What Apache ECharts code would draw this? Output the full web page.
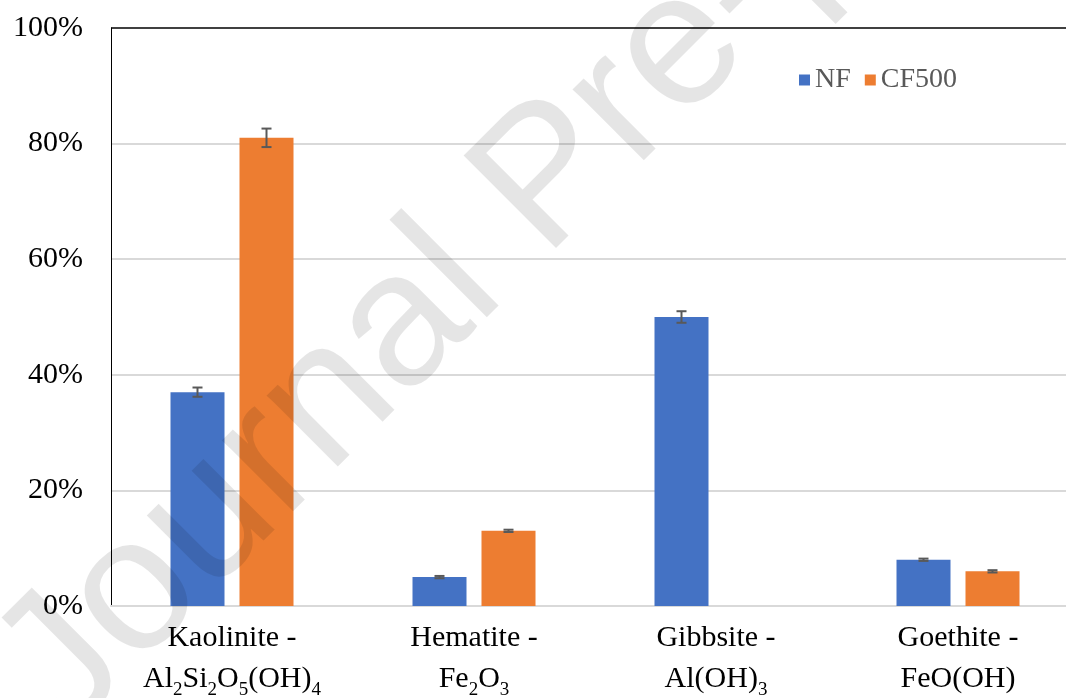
<!DOCTYPE html>
<html>
<head>
<meta charset="utf-8">
<script src="https://cdn.jsdelivr.net/npm/echarts@6/dist/echarts.min.js"></script>
<style>
  html, body { margin: 0; padding: 0; background: #fff; }
  #chart { width: 1066px; height: 698px; }
</style>
</head>
<body>
<div id="chart"></div>
<script>
// 数据
const categories = [
  'Kaolinite -\nAl{s|2}Si{s|2}O{s|5}(OH){s|4}',
  'Hematite -\nFe{s|2}O{s|3}',
  'Gibbsite -\nAl(OH){s|3}',
  'Goethite -\nFeO(OH)'
]
const seriesNames = ['NF', 'CF500']
const nfValues = [37, 5, 50, 8]
const cf500Values = [81, 13, 0, 6]
const nfErrors = [0.8, 0.2, 1.0, 0.2]
const cf500Errors = [1.6, 0.2, null, 0.2]
const yTicks = [0, 20, 40, 60, 80, 100]

const serif = '"Liberation Serif", "Times New Roman", serif'
const barW = 54
const barGapPx = 15

// 误差线的数据 [类别序号, 下限, 上限, 是否显示]
function errData (vals, errs) {
  return vals.map((v, i) => errs[i] == null ? [i, v, v, 0] : [i, v - errs[i], v + errs[i], 1])
}

function errRender (offset) {
  return function (params, api) {
    if (!api.value(3)) return null
    const lo = api.coord([api.value(0), api.value(1)])
    const hi = api.coord([api.value(0), api.value(2)])
    const x = lo[0] + offset
    const cap = 5
    const style = { stroke: '#595959', lineWidth: 2 }
    return {
      type: 'group',
      children: [
        { type: 'line', shape: { x1: x, y1: lo[1], x2: x, y2: hi[1] }, style: style },
        { type: 'line', shape: { x1: x - cap, y1: lo[1], x2: x + cap, y2: lo[1] }, style: style },
        { type: 'line', shape: { x1: x - cap, y1: hi[1], x2: x + cap, y2: hi[1] }, style: style }
      ]
    }
  }
}

const chart = echarts.init(document.getElementById('chart'))
const half = (barW + barGapPx) / 2

const option = {
  backgroundColor: '#fff',
  animation: false,
  grid: { left: 111, width: 968, top: 28, bottom: 92, outerBoundsMode: 'none', containLabel: false },
  legend: {
    data: seriesNames,
    left: 794,
    top: 61,
    icon: 'rect',
    itemWidth: 11,
    itemHeight: 11,
    itemGap: 14,
    textStyle: { fontFamily: serif, fontSize: 28, color: '#595959' }
  },
  xAxis: {
    type: 'category',
    data: categories,
    axisLine: { show: true, lineStyle: { color: '#d9d9d9', width: 2 } },
    axisTick: { show: false },
    axisLabel: {
      margin: 12,
      interval: 0,
      color: '#000',
      fontFamily: serif,
      fontSize: 30,
      lineHeight: 41,
      rich: {
        s: { fontFamily: serif, fontSize: 19, lineHeight: 33, verticalAlign: 'bottom', color: '#000' }
      }
    }
  },
  yAxis: {
    type: 'value',
    min: 0,
    max: 100,
    interval: 20,
    axisLine: { show: true, lineStyle: { color: '#000', width: 1 } },
    axisTick: { show: false },
    axisLabel: {
      margin: 28,
      color: '#000',
      fontFamily: serif,
      fontSize: 30,
      formatter: v => yTicks.indexOf(v) >= 0 ? v + '%' : ''
    },
    splitLine: {
      lineStyle: {
        color: ['#d9d9d9', '#d9d9d9', '#d9d9d9', '#d9d9d9', '#d9d9d9', '#404040'],
        width: 2
      }
    }
  },
  series: [
    {
      name: 'NF',
      type: 'bar',
      data: nfValues,
      barWidth: barW,
      barGap: (barGapPx / barW * 100) + '%',
      itemStyle: { color: '#4472c4' }
    },
    {
      name: 'CF500',
      type: 'bar',
      data: cf500Values,
      barWidth: barW,
      itemStyle: { color: '#ed7d31' }
    },
    {
      type: 'custom',
      renderItem: errRender(-half),
      data: errData(nfValues, nfErrors),
      encode: { x: 0, y: [1, 2] },
      z: 5
    },
    {
      type: 'custom',
      renderItem: errRender(half),
      data: errData(cf500Values, cf500Errors),
      encode: { x: 0, y: [1, 2] },
      z: 5
    }
  ],
  // 水印
  graphic: [
    {
      type: 'text',
      x: 30,
      y: 700,
      rotation: Math.PI / 4,
      z: 100,
      silent: true,
      style: {
        text: 'Journal Pre-proof',
        fontFamily: '"Liberation Sans", Arial, sans-serif',
        fontSize: 190,
        fill: 'rgba(0,0,0,0.1)',
        textAlign: 'left',
        textVerticalAlign: 'middle'
      }
    }
  ]
}

chart.setOption(option)
</script>
</body>
</html>
